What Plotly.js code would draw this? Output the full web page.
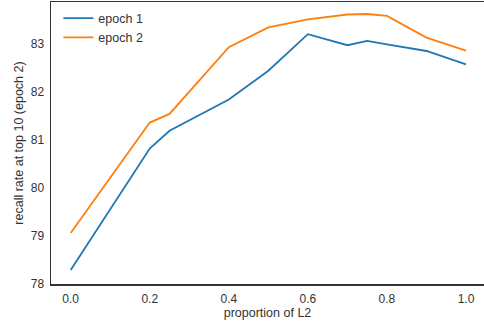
<!DOCTYPE html>
<html>
<head>
<meta charset="utf-8">
<script src="https://cdn.plot.ly/plotly-3.0.1.min.js"></script>
<style>html,body{margin:0;padding:0;background:#fff;overflow:hidden}</style>
</head>
<body>
<div id="chart" style="width:484px;height:324px"></div>
<script>
const proportion = [0.0, 0.2, 0.25, 0.4, 0.5, 0.6, 0.7, 0.75, 0.8, 0.9, 1.0];
const epoch1 = [78.28, 80.81, 81.18, 81.83, 82.43, 83.19, 82.96, 83.05, 82.98, 82.84, 82.56];
const epoch2 = [79.05, 81.35, 81.53, 82.92, 83.33, 83.50, 83.60, 83.61, 83.57, 83.12, 82.85];
const seriesNames = ['epoch 1', 'epoch 2'];
const xTicks = [0.0, 0.2, 0.4, 0.6, 0.8, 1.0];
const yTicks = [78, 79, 80, 81, 82, 83];

const font = 'Liberation Sans, Arial, sans-serif';
const traces = [
  {x: proportion, y: epoch1, name: seriesNames[0], mode: 'lines', line: {color: '#1f77b4', width: 1.8}},
  {x: proportion, y: epoch2, name: seriesNames[1], mode: 'lines', line: {color: '#ff7f0e', width: 1.8}}
];
const axisCommon = {
  showgrid: false, zeroline: false, showline: true, mirror: true,
  linecolor: '#333', linewidth: 1.5,
  ticks: 'outside', ticklen: 3, tickcolor: 'rgba(0,0,0,0)',
  tickfont: {family: font, size: 12, color: '#333'}
};
const layout = {
  width: 484, height: 324,
  margin: {l: 51, r: 0, t: 2, b: 40},
  paper_bgcolor: '#fff', plot_bgcolor: '#fff',
  showlegend: true,
  legend: {x: 0.017, y: 0.995, xanchor: 'left', yanchor: 'top', bgcolor: 'rgba(0,0,0,0)',
           font: {family: font, size: 12.5, color: '#333'}},
  xaxis: Object.assign({}, axisCommon, {
    range: [-0.0498, 1.0455], tickvals: xTicks, ticktext: xTicks.map(v => v.toFixed(1)),
    title: {text: 'proportion of L2', font: {family: font, size: 12.5, color: '#333'}, standoff: 3}
  }),
  yaxis: Object.assign({}, axisCommon, {
    range: [77.99, 83.86], tickvals: yTicks,
    title: {text: 'recall rate at top 10 (epoch 2)', font: {family: font, size: 12.5, color: '#333'}, standoff: 4}
  })
};
Plotly.newPlot('chart', traces, layout, {displayModeBar: false, staticPlot: true});
</script>
</body>
</html>
